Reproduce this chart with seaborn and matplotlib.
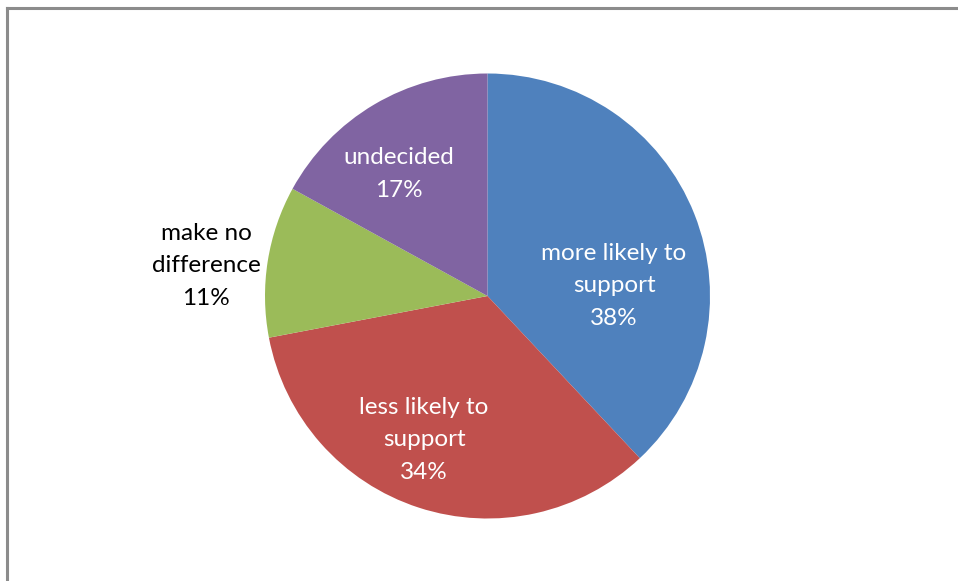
import matplotlib
matplotlib.use("Agg")
import matplotlib.pyplot as plt
import seaborn as sns
from matplotlib.lines import Line2D

# Survey responses
categories = ["more likely to\nsupport", "less likely to\nsupport", "make no\ndifference", "undecided"]
shares = [38, 34, 11, 17]
colors = ["#4F81BD", "#C0504D", "#9BBB59", "#8064A2"]
label_colors = ["white", "white", "#000000", "white"]
# label anchor points in pie-radius units
label_xy = [(0.569, 0.045), (-0.285, -0.647), (-1.265, 0.135), (-0.398, 0.548)]

sns.set_theme(style="white")
plt.rcParams["font.family"] = ["Lato", "DejaVu Sans"]

W, H = 958, 581
fig = plt.figure(figsize=(W / 100, H / 100), dpi=100)
fig.patch.set_facecolor("white")

# chart frame: only the top and left edges fall inside the image
fx, fy = 6.5 / W, (H - 7.5) / H
fig.add_artist(Line2D([fx, fx], [-0.05, fy], transform=fig.transFigure,
                      color="#8C8C8C", linewidth=2.2, solid_capstyle="projecting"))
fig.add_artist(Line2D([fx, 1.05], [fy, fy], transform=fig.transFigure,
                      color="#8C8C8C", linewidth=2.2, solid_capstyle="projecting"))

cx, cy, r = 487.5, 296, 222.5
ax = fig.add_axes([(cx - r) / W, (H - cy - r) / H, 2 * r / W, 2 * r / H])
ax.pie(shares, colors=colors, startangle=90, counterclock=False,
       wedgeprops=dict(linewidth=0), radius=1)
ax.set_xlim(-1, 1)
ax.set_ylim(-1, 1)
ax.axis("off")

for name, val, (x, y), c in zip(categories, shares, label_xy, label_colors):
    ax.text(x, y, f"{name}\n{val}%", ha="center", va="center", color=c,
            fontsize=17.5, linespacing=1.66, clip_on=False)

fig.savefig("out.png", dpi=100, facecolor="white")
